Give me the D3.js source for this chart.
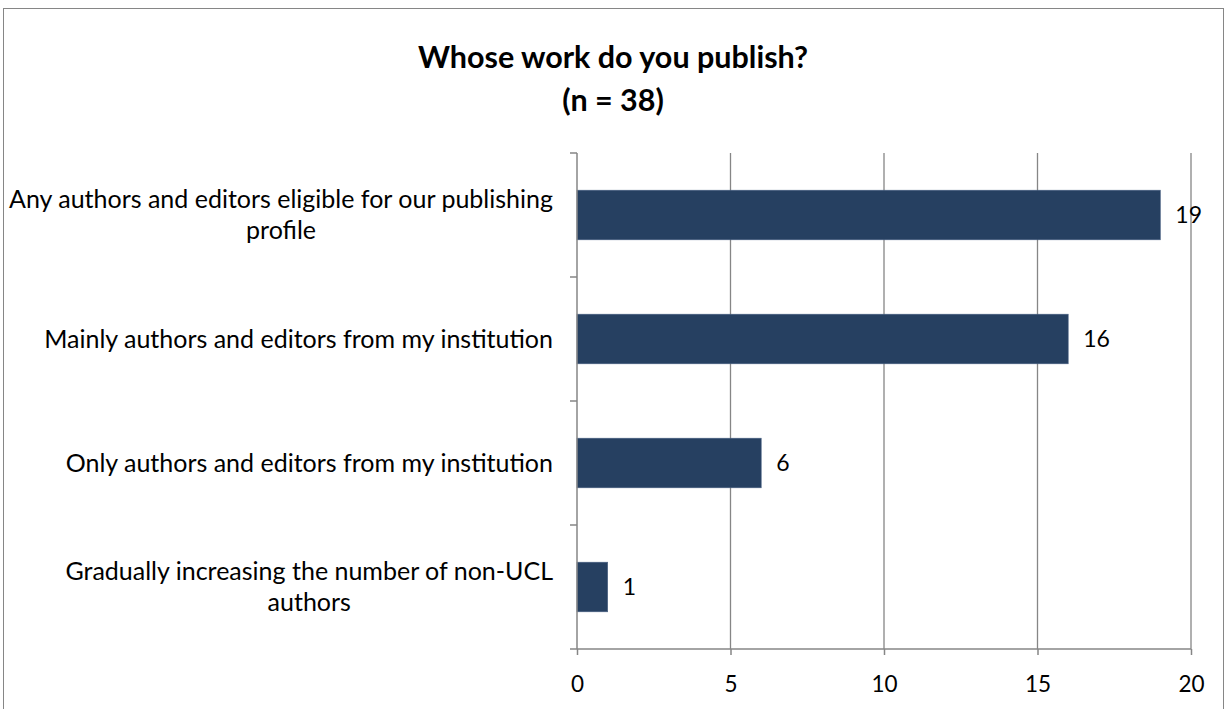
<!DOCTYPE html>
<html><head><meta charset="utf-8">
<script src="https://cdn.jsdelivr.net/npm/d3@7"></script>
<style>html,body{margin:0;padding:0;background:#fff;}svg{display:block;font-family:Lato,"Open Sans",sans-serif;}</style>
</head><body>
<svg id="c" width="1229" height="709"></svg>
<script>
const categories = [
  ["Any authors and editors eligible for our publishing", "profile"],
  ["Mainly authors and editors from my institution"],
  ["Only authors and editors from my institution"],
  ["Gradually increasing the number of non-UCL", "authors"]
];
const values = [19, 16, 6, 1];
const xTicks = [0, 5, 10, 15, 20];
const titleLines = ["Whose work do you publish?", "(n = 38)"];

const svg = d3.select("#c");
const plot = {left: 577, right: 1191, top: 153, bottom: 649};
const axisColor = "#868686";
const barColor = "#264061";

svg.append("rect").attr("x", 3.5).attr("y", 8.5).attr("width", 1220).attr("height", 720)
  .attr("fill", "#fff").attr("stroke", "#868686").attr("stroke-width", 1);

svg.selectAll("text.title").data(titleLines).enter().append("text")
  .attr("class", "title").attr("x", 613).attr("y", (d, i) => 68 + i * 43)
  .attr("text-anchor", "middle").attr("font-size", 30.5).attr("font-weight", "bold").attr("fill", "#000")
  .text(d => d);

const x = d3.scaleLinear().domain([0, 20]).range([plot.left, plot.right]);
const idx = d3.range(categories.length);
const y = d3.scaleBand().domain(idx).range([plot.top, plot.bottom]).paddingInner(0.6).paddingOuter(0.3);

// gridlines
svg.append("g").selectAll("line").data(xTicks.filter(t => t > 0)).enter().append("line")
  .attr("x1", d => x(d)).attr("x2", d => x(d)).attr("y1", plot.top).attr("y2", plot.bottom)
  .attr("stroke", axisColor).attr("stroke-width", 1.3);

// bars
svg.append("g").selectAll("rect").data(values).enter().append("rect")
  .attr("x", x(0)).attr("y", (d, i) => y(i)).attr("width", d => x(d) - x(0)).attr("height", y.bandwidth())
  .attr("fill", barColor).attr("stroke", "#4a6283").attr("stroke-width", 0.6);

// x axis
const xAxis = d3.axisBottom(x).tickValues(xTicks).tickSize(6).tickPadding(21).tickFormat(d3.format("d"));
const gx = svg.append("g").attr("transform", `translate(0,${plot.bottom})`).call(xAxis);
gx.select(".domain").attr("stroke", axisColor).attr("stroke-width", 1.5).attr("d", `M${plot.left - 7},0H${plot.right}`);
gx.selectAll(".tick line").attr("stroke", axisColor).attr("stroke-width", 1.5);
gx.selectAll(".tick text").attr("font-size", 22.5).attr("fill", "#000").attr("font-family", "Lato,'Open Sans',sans-serif");

// y axis line and separator ticks
svg.append("line").attr("x1", plot.left).attr("x2", plot.left).attr("y1", plot.top).attr("y2", plot.bottom)
  .attr("stroke", axisColor).attr("stroke-width", 1.5);
const step = y.step();
svg.append("g").selectAll("line").data(d3.range(categories.length)).enter().append("line")
  .attr("x1", plot.left - 7).attr("x2", plot.left)
  .attr("y1", d => plot.top + d * step).attr("y2", d => plot.top + d * step)
  .attr("stroke", axisColor).attr("stroke-width", 1.5);

// category labels
const lineH = 31, labelRight = 553;
categories.forEach((lines, i) => {
  const cy = y(i) + y.bandwidth() / 2;
  const g = svg.append("g");
  const texts = g.selectAll("text").data(lines).enter().append("text")
    .attr("font-size", 25).attr("fill", "#000").attr("text-anchor", "middle")
    .attr("dy", "0.35em")
    .attr("y", (d, j) => cy + (j - (lines.length - 1) / 2) * lineH)
    .text(d => d);
  let maxW = 0;
  texts.each(function () { maxW = Math.max(maxW, this.getComputedTextLength()); });
  texts.attr("x", labelRight - maxW / 2);
});

// value labels
svg.append("g").selectAll("text").data(values).enter().append("text")
  .attr("x", d => x(d) + 15).attr("y", (d, i) => y(i) + y.bandwidth() / 2)
  .attr("dy", "0.35em").attr("font-size", 23).attr("fill", "#000")
  .text(d => d);
</script>
</body></html>
